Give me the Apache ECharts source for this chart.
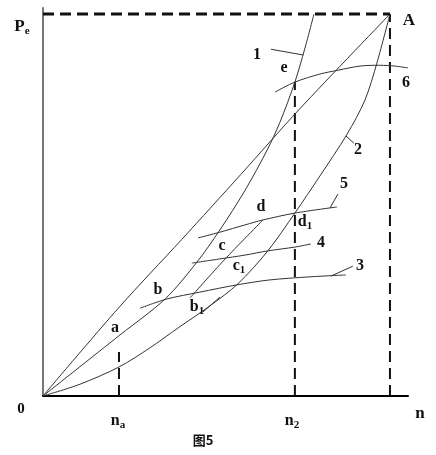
<!DOCTYPE html>
<html><head><meta charset="utf-8">
<script src="https://cdn.jsdelivr.net/npm/echarts@6/dist/echarts.min.js"></script>
<style>html,body{margin:0;padding:0;background:#fff}#c{width:436px;height:455px}</style>
</head><body><div id="c"></div>
<script>
// Values in relative units: point A = (100, 100)
const nA = 100, PeA = 100;
const n2 = 72.6, na = 21.9, naTop = 11.5, eTop = 82.2;
const xMax = 105.2, yMax = 101.6;
const curveL0 = [[0,0],[22,23.3],[40,41],[57,58],[74,75.2],[100,100]];
const curve1 = [[0,0],[22.2,16.0],[35.2,25.4],[44.4,35.1],[51.0,43.5],[58.2,53.8],[64.6,64.4],[68.3,71.7],[72.6,82.2],[75.5,91.1],[78.1,100]];
const curve2 = [[0,0],[10.7,3.1],[21.9,7.6],[30.8,12.6],[38.9,17.8],[48.1,23.6],[56.2,29.4],[64.8,38.0],[72.6,47.9],[79.8,57.6],[87.6,68.5],[92.8,77.5],[96.3,87.4],[100,100]];
const curve3 = [[28.0,23.0],[35.7,25.4],[45.2,27.2],[55.9,29.1],[65.4,30.4],[76.9,31.2],[87.3,31.7]];
const curve4 = [[42.9,34.8],[51.0,35.9],[58.2,36.9],[64.8,38.0],[72.6,39.0],[77.2,39.8]];
const curve5 = [[44.7,41.4],[51.0,42.9],[58.2,44.8],[63.4,46.1],[72.6,47.9],[84.7,49.5]];
const curve6 = [[66.9,79.6],[72.6,82.2],[79.8,84.3],[85.0,85.3],[91.4,86.4],[97.1,86.6],[101.4,86.4],[105.2,85.9]];
const curveCD = [[42.4,25.7],[52.2,35.6],[63.4,46.1]];
const leader1 = [[65.7,90.8],[75.0,89.3]];
const leader2 = [[87.3,68.1],[89.6,66.2]];
const leader3 = [[83.0,31.4],[89.3,34.0]];
const leader5 = [[82.7,49.2],[85.0,52.9]];
const leaderB1 = [[46.1,22.0],[51.0,25.9]];

const chart = echarts.init(document.getElementById('c'));
const thin = {color:'#333', width:1};
function curve(data, smooth){
  return {type:'line', data, symbol:'none', smooth: smooth===undefined?0.3:smooth, lineStyle:thin, silent:true, z:3};
}
function dashed(data, w){
  return {type:'line', data, symbol:'none', lineStyle:{color:'#111', width:w, type:[11,6]}, silent:true, z:2};
}
function txt(t, x, y, size){
  return {type:'text', x, y, style:{text:t, font:'bold '+(size||16)+'px "Liberation Serif", serif', fill:'#111', align:'center', verticalAlign:'middle'}, z:10};
}
function sub(m, s, x, y, size){
  const fs = size||16;
  return {type:'text', x, y, style:{text:'{m|'+m+'}{s|'+s+'}', fill:'#111', align:'center', verticalAlign:'middle',
    rich:{m:{font:'bold '+fs+'px "Liberation Serif", serif', lineHeight:20, verticalAlign:'middle'},
          s:{font:'bold 11px "Liberation Serif", serif', lineHeight:10, verticalAlign:'bottom'}}}, z:10};
}
chart.setOption({
  animation:false,
  backgroundColor:'#fff',
  grid:{left:43, top:8, width:365, height:388},
  xAxis:{type:'value', min:0, max:xMax, axisLine:{show:true, onZero:false, lineStyle:{color:'#000', width:2}}, axisTick:{show:false}, axisLabel:{show:false}, splitLine:{show:false}},
  yAxis:{type:'value', min:0, max:yMax, axisLine:{show:true, onZero:false, lineStyle:{color:'#777', width:2}}, axisTick:{show:false}, axisLabel:{show:false}, splitLine:{show:false}},
  series:[
    dashed([[0,PeA],[nA,PeA]], 3),
    dashed([[nA,0],[nA,PeA]], 2),
    dashed([[n2,0],[n2,eTop]], 2),
    dashed([[na,0],[na,naTop]], 2),
    curve(curveL0),
    curve(curve1),
    curve(curve2),
    curve(curve3),
    curve(curve4),
    curve(curve5),
    curve(curve6),
    curve(curveCD),
    curve(leader1,false), curve(leader2,false), curve(leader3,false), curve(leader5,false), curve(leaderB1,false)
  ],
  graphic:[
    sub('P','e',22,27,17),
    txt('A',409,21,17),
    txt('1',257,55),
    txt('e',284,68),
    txt('6',406,83),
    txt('2',358,150),
    txt('5',344,184),
    txt('d',261,207),
    sub('d','1',305,222),
    txt('4',321,243),
    txt('c',222,246),
    sub('c','1',239,266),
    txt('3',360,266),
    txt('b',158,290),
    sub('b','1',197,307),
    txt('a',115,328),
    txt('0',21,409,15),
    sub('n','a',118,421),
    sub('n','2',292,421),
    txt('n',420,414,17),
    {type:'text', x:203, y:440, style:{text:'图5', font:'bold 13px "Noto Sans CJK SC", sans-serif', fill:'#111', align:'center', verticalAlign:'middle'}}
  ]
});
</script></body></html>
